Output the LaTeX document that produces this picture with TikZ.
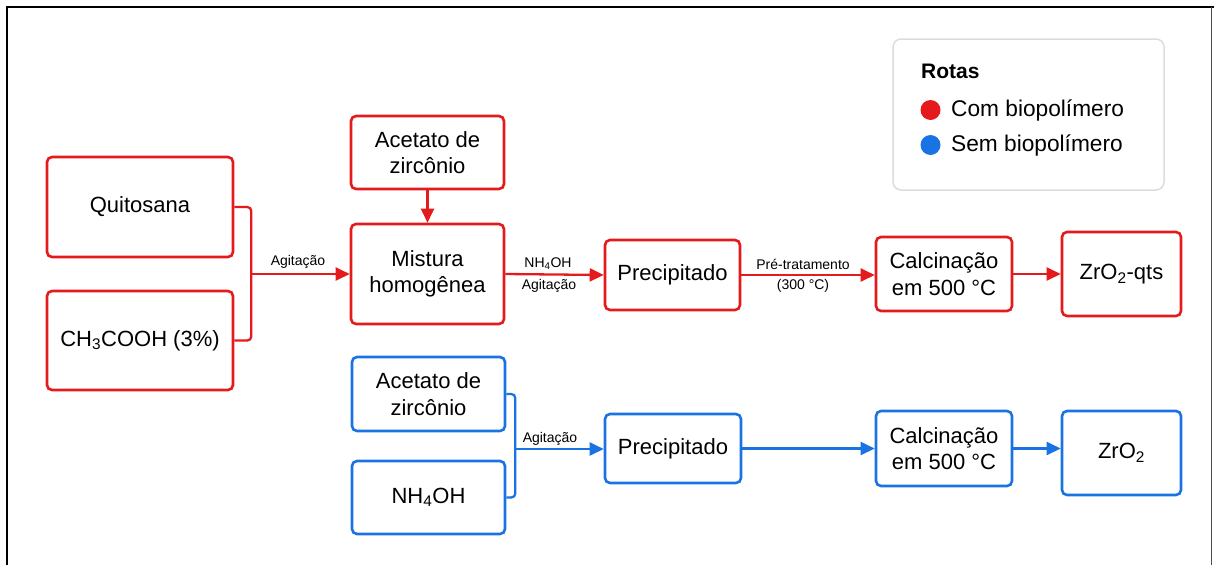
\documentclass[tikz,border=0pt]{standalone}
\usepackage{fontspec}
\setmainfont{Liberation Sans}
\usetikzlibrary{arrows.meta}
\definecolor{rred}{HTML}{E51A1C}
\definecolor{bblue}{HTML}{1A73E3}
\definecolor{lgray}{HTML}{DADCE0}
\tikzset{
  x=1pt,y=-1pt,
  boxr/.style={draw=rred,line width=2.6pt,rounded corners=5pt,fill=white,align=center,
     font=\fontsize{22}{26.5}\selectfont,inner sep=0pt},
  boxb/.style={boxr,draw=bblue},
  arr/.style={line width=2.3pt,-{Triangle[length=14pt,width=13pt]}},
  lnk/.style={line width=2.3pt,rounded corners=4pt},
  lbl/.style={font=\fontsize{14}{16}\selectfont,inner sep=0pt},
}
\begin{document}
\begin{tikzpicture}
\useasboundingbox (0,0) rectangle (1214,565);
% frame
\draw[line width=2pt,black] (7,565) -- (7,7) -- (1214,7);
\draw[line width=1pt,black!70] (1211.5,7) -- (1211.5,565);
% legend
\node[draw=lgray,line width=1.5pt,rounded corners=8pt,minimum width=271pt,minimum height=151pt,inner sep=0pt] (leg) at (1028.5,114.5) {};
\node[anchor=west,font=\bfseries\fontsize{21}{24}\selectfont,inner sep=0pt] (legt) at (921,71) {Rotas};
\node[circle,fill=rred,minimum size=20pt,inner sep=0pt] (dr) at (930.5,110) {};
\node[circle,fill=bblue,minimum size=20pt,inner sep=0pt] (db) at (930.5,145) {};
\node[anchor=west,font=\fontsize{22.7}{26}\selectfont,inner sep=0pt] (lr) at (951,110) {Com biopolímero};
\node[anchor=west,font=\fontsize{22.7}{26}\selectfont,inner sep=0pt] (lb) at (951,145) {Sem biopolímero};
% red route
\node[boxr,minimum width=186pt,minimum height=100pt] (q) at (140,207) {Quitosana};
\node[boxr,minimum width=186pt,minimum height=99pt] (ch) at (140,340.5) {CH\textsubscript{3}COOH (3\%)};
\node[boxr,minimum width=153pt,minimum height=73pt] (az) at (427.5,152.5) {Acetato de\\zircônio};
\node[boxr,minimum width=153pt,minimum height=100pt] (m) at (427.5,274) {Mistura\\homogênea};
\node[boxr,minimum width=135pt,minimum height=70pt] (p) at (672.5,275) {Precipitado};
\node[boxr,minimum width=136pt,minimum height=74pt] (c) at (944,274) {Calcinação\\em 500 °C};
\node[boxr,minimum width=119pt,minimum height=84pt] (z) at (1121.5,274) {ZrO\textsubscript{2}-qts};
\coordinate (jr) at (250,274);
\draw[lnk,rred] (q.east) -- ++(17,0) |- (ch.east);
\draw[arr,rred] (jr) -- (m.west);
\draw[arr,rred] (az.south) -- (m.north);
\draw[arr,rred] (m.east) -- (p.west);
\draw[arr,rred] (p.east) -- (p.east -| c.west);
\draw[arr,rred] (c.east) -- (c.east -| z.west);
\node[lbl] (l1) at (298,262) {Agitação};
\node[lbl] (l2) at (548,264) {NH\textsubscript{4}OH};
\node[lbl] (l3) at (549,286) {Agitação};
\node[lbl] (l4) at (803,264) {Pré-tratamento};
\node[lbl] (l5) at (803,286) {(300 °C)};
% blue route
\node[boxb,minimum width=153pt,minimum height=74pt] (ab) at (428.5,394) {Acetato de\\zircônio};
\node[boxb,minimum width=153pt,minimum height=73pt] (n) at (428.5,497.5) {NH\textsubscript{4}OH};
\node[boxb,minimum width=136pt,minimum height=69pt] (pb) at (673,448.5) {Precipitado};
\node[boxb,minimum width=136pt,minimum height=75pt] (cb) at (944,448.5) {Calcinação\\em 500 °C};
\node[boxb,minimum width=119pt,minimum height=84pt] (zb) at (1121.5,453) {ZrO\textsubscript{2}};
\coordinate (jb) at (514,449);
\draw[lnk,bblue] (ab.east) -- ++(9,0) |- (n.east);
\draw[arr,bblue] (jb) -- (jb -| pb.west);
\draw[arr,bblue] (pb.east) -- (pb.east -| cb.west);
\draw[arr,bblue] (cb.east) -- (cb.east -| zb.west);
\node[lbl] (l6) at (550,439) {Agitação};
\end{tikzpicture}
\end{document}
